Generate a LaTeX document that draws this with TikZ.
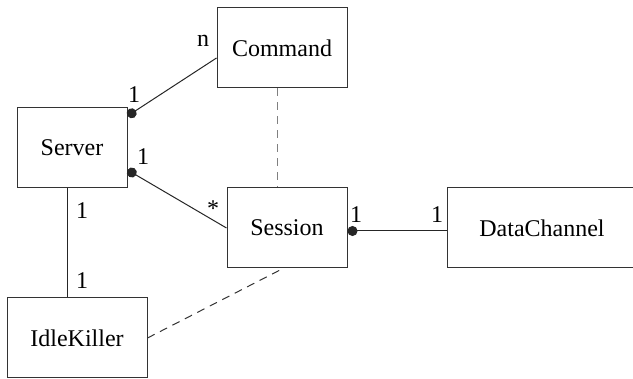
\documentclass[tikz,border=0pt]{standalone}
\usepackage{fontspec}
\setmainfont{Liberation Serif}
\usetikzlibrary{positioning}
\usetikzlibrary{arrows.meta}

\begin{document}
\begin{tikzpicture}[x=0.5pt, y=-0.5pt, font=\fontsize{12}{14}\selectfont,
    classBox/.style={draw=black!80, line width=0.5pt, minimum height=40pt, inner sep=0pt},
    assoc/.style={black!85, line width=0.5pt},
    dotEnd/.style={{Circle[length=5pt]}-},
    depend/.style={gray, line width=0.5pt, dash pattern=on 4pt off 3pt},
    mult/.style={inner sep=0pt}
  ]

\useasboundingbox (0,0) rectangle (633,379);

% classes
\node[classBox, minimum width=65pt] (cmd) at (282,48) {Command};
\node[classBox, minimum width=55pt] (srv) at (72,148) {Server};
\node[classBox, minimum width=60pt] (ses) at (287,228) {Session};
\node[classBox, minimum width=95pt] (dch) at (542,228) {DataChannel};
\node[classBox, minimum width=70pt] (idle) at (77,338) {IdleKiller};

% associations
\draw[assoc, dotEnd] ([yshift=16pt]srv.east) -- ([yshift=-5pt]cmd.west);
\draw[assoc, dotEnd] ([yshift=-11pt]srv.east) -- (ses.west);
\draw[assoc, dotEnd] ([yshift=-1.5pt]ses.east) -- ([yshift=-1.5pt]ses.east -| dch.west);
\draw[assoc] ([xshift=-2.5pt]srv.south) -- ([xshift=-2.5pt]srv.south |- idle.north);

% dependencies
\draw[depend] ([xshift=-2.5pt]cmd.south) -- ([xshift=-2.5pt]cmd.south |- ses.north);
\draw[depend, black!80] (idle.east) -- ([xshift=-2pt]ses.south);

% multiplicities
\node[mult] (m1) at (134,95) {1};
\node[mult] (m2) at (203,41) {n};
\node[mult] (m3) at (143,157) {1};
\node[mult] (m4) at (213,209) {*};
\node[mult] (m5) at (82,211) {1};
\node[mult] (m6) at (82,281) {1};
\node[mult] (m7) at (356,215) {1};
\node[mult] (m8) at (437,215) {1};

\end{tikzpicture}
\end{document}
